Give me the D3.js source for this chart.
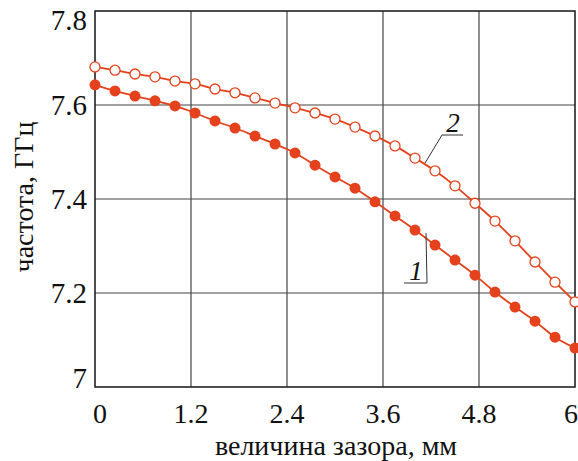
<!DOCTYPE html>
<html><head><meta charset="utf-8">
<script src="https://cdn.jsdelivr.net/npm/d3@7"></script>
</head>
<body style="margin:0">
<svg id="chart" width="578" height="461"></svg>
<script>
// data
const gap = [0,0.25,0.5,0.75,1.0,1.25,1.5,1.75,2.0,2.25,2.5,2.75,3.0,3.25,3.5,3.75,4.0,4.25,4.5,4.75,5.0,5.25,5.5,5.75,6.0];
const series1 = [7.643,7.630,7.619,7.609,7.598,7.583,7.566,7.551,7.534,7.517,7.498,7.472,7.447,7.423,7.394,7.364,7.334,7.302,7.270,7.238,7.202,7.170,7.140,7.106,7.083];
const series2 = [7.681,7.674,7.666,7.660,7.651,7.645,7.634,7.626,7.615,7.604,7.594,7.583,7.570,7.553,7.534,7.513,7.487,7.460,7.428,7.391,7.353,7.311,7.266,7.223,7.181];
const xTicks = [0,1.2,2.4,3.6,4.8,6];
const xTickLabels = ["0","1.2","2.4","3.6","4.8","6"];
const yTicks = [7,7.2,7.4,7.6,7.8];
const yTickLabels = ["7","7.2","7.4","7.6","7.8"];
const xTitle = "величина зазора, мм";
const yTitle = "частота, ГГц";
const seriesLabels = ["1","2"];

const color = "#e4411c";
const svg = d3.select("#chart");
const L = 95, R = 575, T = 11, B = 387;
const x = d3.scaleLinear().domain([0,6]).range([L,R]);
const y = d3.scaleLinear().domain([7,7.8]).range([B,T]);

// grid
svg.append("g").selectAll("line").data(xTicks.slice(1,-1)).join("line")
  .attr("x1",d=>x(d)).attr("x2",d=>x(d)).attr("y1",T).attr("y2",B)
  .attr("stroke","#444").attr("stroke-width",1.2);
svg.append("g").selectAll("line").data(yTicks.slice(1,-1)).join("line")
  .attr("y1",d=>y(d)).attr("y2",d=>y(d)).attr("x1",L).attr("x2",R)
  .attr("stroke","#444").attr("stroke-width",1.2);
svg.append("rect").attr("x",L).attr("y",T).attr("width",R-L).attr("height",B-T)
  .attr("fill","none").attr("stroke","#222").attr("stroke-width",1.6);

// lines
const line = d3.line().curve(d3.curveCatmullRom).x((d,i)=>x(gap[i])).y(d=>y(d));
svg.append("path").datum(series1).attr("d",line).attr("fill","none").attr("stroke",color).attr("stroke-width",1.8);
svg.append("path").datum(series2).attr("d",line).attr("fill","none").attr("stroke",color).attr("stroke-width",1.8);
svg.append("g").selectAll("circle").data(series1).join("circle")
  .attr("cx",(d,i)=>x(gap[i])).attr("cy",d=>y(d)).attr("r",5.5).attr("fill",color);
svg.append("g").selectAll("circle").data(series2).join("circle")
  .attr("cx",(d,i)=>x(gap[i])).attr("cy",d=>y(d)).attr("r",5).attr("fill","#fff")
  .attr("stroke",color).attr("stroke-width",1.3);

// tick labels
svg.append("g").selectAll("text").data(xTicks).join("text")
  .attr("x",(d,i)=> x(d) + (i===0 ? 5 : (i===xTicks.length-1 ? -4 : 0)))
  .attr("y",B+36).attr("text-anchor","middle").attr("font-size",28)
  .style("font-family",d=>'"Liberation Serif"').attr("fill","#111")
  .text((d,i)=>xTickLabels[i]);
svg.append("g").selectAll("text").data(yTicks).join("text")
  .attr("x",L-8).attr("y",d=>y(d)).attr("text-anchor","end").attr("font-size",29)
  .attr("dy",(d,i)=> i===0 ? "0.02em" : (i===yTicks.length-1 ? "0.65em" : "0.35em"))
  .style("font-family",d=>'"Liberation Serif"').attr("fill","#111")
  .text((d,i)=>yTickLabels[i]);

// titles
svg.append("text").attr("x",336).attr("y",455).attr("text-anchor","middle").attr("font-size",28)
  .style("font-family",'"Liberation Serif"').attr("fill","#111").text(xTitle);
svg.append("text").attr("transform","translate(33,197) rotate(-90)").attr("text-anchor","middle").attr("font-size",28)
  .style("font-family",'"Liberation Serif"').attr("fill","#111").text(yTitle);

// annotations
const ann = svg.append("g").attr("stroke","#333").attr("stroke-width",1).attr("fill","none");
ann.append("polyline").attr("points",`${x(4.25)-9},${y(series1[17])-12} 427,283 404,283`);
ann.append("polyline").attr("points",`${x(4.0)+10},${y(series2[16])+5} 442,135 463,135`);
svg.append("text").attr("x",416).attr("y",280).attr("text-anchor","middle").attr("font-size",27)
  .style("font-family",'"Liberation Serif"').style("font-style","italic").attr("fill","#111").text(seriesLabels[0]);
svg.append("text").attr("x",453).attr("y",132).attr("text-anchor","middle").attr("font-size",27)
  .style("font-family",'"Liberation Serif"').style("font-style","italic").attr("fill","#111").text(seriesLabels[1]);
</script>
</body></html>
